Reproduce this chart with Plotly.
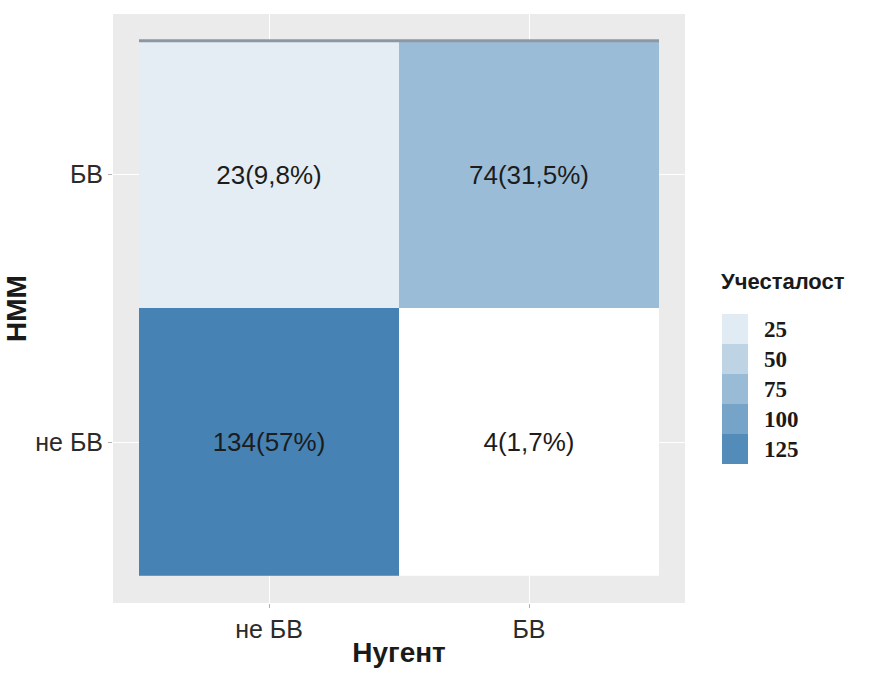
import plotly.graph_objects as go
from plotly.colors import find_intermediate_color, hex_to_rgb, label_rgb

# Confusion-style counts: rows = НММ, columns = Нугент
x_cats = ["не БВ", "БВ"]
y_cats = ["не БВ", "БВ"]
counts = [[134, 4],
          [23, 74]]
shares = [["57%", "1,7%"],
          ["9,8%", "31,5%"]]
legend_ticks = [25, 50, 75, 100, 125]

low_col, high_col = "#FFFFFF", "#4682B4"
zmin = min(min(r) for r in counts)
zmax = max(max(r) for r in counts)


def scale_color(v):
    t = (v - zmin) / (zmax - zmin)
    return label_rgb(find_intermediate_color(hex_to_rgb(low_col), hex_to_rgb(high_col), t))


labels = [[f"{c}({s})" for c, s in zip(rc, rs)] for rc, rs in zip(counts, shares)]

fig = go.Figure()
fig.add_trace(go.Heatmap(
    x=x_cats, y=y_cats, z=counts,
    text=labels, texttemplate="%{text}",
    textfont=dict(family="Liberation Sans", size=26, color="#1c1c1c"),
    colorscale=[[0, low_col], [1, high_col]],
    zmin=zmin, zmax=zmax, showscale=False, hoverinfo="skip",
))

# Stepped key, one band per legend value, smallest value on top
# (values are negated so that the bar reads downward)
step = legend_ticks[1] - legend_ticks[0]
cmin = -(legend_ticks[-1] + step / 2)
cmax = -(legend_ticks[0] - step / 2)
n = len(legend_ticks)
stepped = []
for i, v in enumerate(reversed(legend_ticks)):
    c = scale_color(v)
    stepped.append([i / n, c])
    stepped.append([(i + 1) / n, c])

PLOT_L, PLOT_T, PLOT_W, PLOT_H = 113, 14, 572, 591

fig.add_trace(go.Scatter(
    x=[x_cats[0]], y=[y_cats[0]], mode="markers",
    marker=dict(color=[-legend_ticks[0]], colorscale=stepped, cmin=cmin, cmax=cmax,
                opacity=0, showscale=True,
                colorbar=dict(
                    tickvals=[-v for v in legend_ticks], ticktext=[str(v) for v in legend_ticks],
                    tickfont=dict(family="Liberation Serif", size=23, color="#1a1a1a", weight="bold"),
                    ticks="outside", ticklen=12, tickcolor="rgba(0,0,0,0)",
                    outlinewidth=0, thickness=26,
                    len=150, lenmode="pixels",
                    xref="paper", x=(722 - PLOT_L) / PLOT_W, xanchor="left",
                    yref="paper", y=1 - (315 - PLOT_T) / PLOT_H, yanchor="top",
                    xpad=0, ypad=0,
                )),
    hoverinfo="skip", showlegend=False,
))

fig.add_annotation(text="<b>Учесталост</b>", xref="paper", yref="paper",
                   x=(719 - PLOT_L) / PLOT_W, y=1 - (282 - PLOT_T) / PLOT_H,
                   xanchor="left", yanchor="middle", showarrow=False,
                   font=dict(family="Liberation Sans", size=22, color="#1a1a1a"))

# Line along the top edge of the tiles
fig.add_shape(type="line", xref="x", yref="y", x0=-0.5, x1=1.5, y0=1.5, y1=1.5,
              line=dict(color="#8c97a5", width=3))

fig.update_xaxes(
    type="category", categoryorder="array", categoryarray=x_cats,
    range=[-0.6, 1.6], showgrid=True, gridcolor="#FFFFFF", zeroline=False,
    ticks="outside", ticklen=4, tickcolor="#B0B0B0",
    tickfont=dict(family="Liberation Sans", size=25, color="#2b2b2b"),
    title=dict(text="Нугент", standoff=0,
               font=dict(family="Liberation Sans", size=28, color="#1a1a1a", weight="bold")),
)
fig.update_yaxes(
    type="category", categoryorder="array", categoryarray=y_cats,
    range=[-0.6, 1.6], showgrid=True, gridcolor="#FFFFFF", zeroline=False,
    ticks="outside", ticklen=4, tickcolor="#B0B0B0",
    tickfont=dict(family="Liberation Sans", size=25, color="#2b2b2b"),
    title=dict(text="НММ", standoff=0,
               font=dict(family="Liberation Sans", size=28, color="#1a1a1a", weight="bold")),
)

fig.update_layout(
    width=877, height=675,
    margin=dict(l=PLOT_L, r=877 - PLOT_L - PLOT_W, t=PLOT_T, b=675 - PLOT_T - PLOT_H),
    plot_bgcolor="#EBEBEB", paper_bgcolor="#FFFFFF",
    showlegend=False,
)

fig.write_html("out.html")
